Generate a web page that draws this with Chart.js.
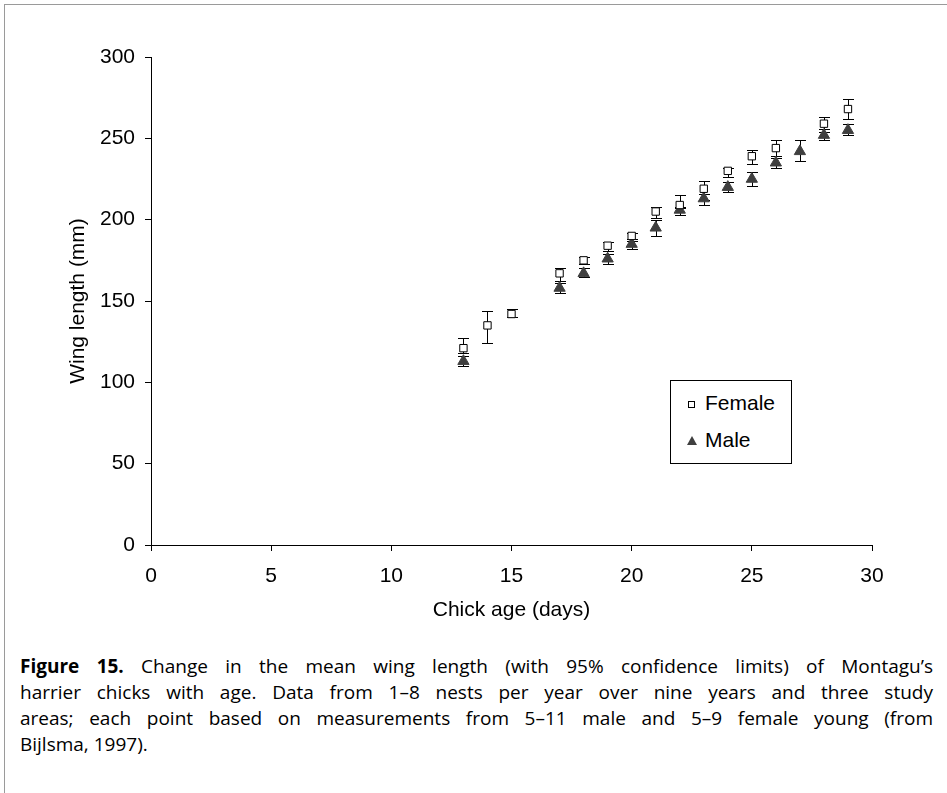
<!DOCTYPE html>
<html>
<head>
<meta charset="utf-8">
<script src="https://cdn.jsdelivr.net/npm/chart.js@4.4.0/dist/chart.umd.min.js"></script>
<style>
  body { margin: 0; background: #fff; }
  #frame { position: absolute; left: 4px; top: 4px; width: 943px; height: 789px;
           border-top: 1px solid #9a9a9a; border-left: 1px solid #9a9a9a; }
  #chart { position: absolute; left: 0; top: 0; }
  #legendBox { position: absolute; left: 670px; top: 380px; width: 120px; height: 82px;
               border: 1px solid #000; background: #fff;
               font-family: "Liberation Sans", Arial, sans-serif; font-size: 21px; line-height: 24px; color: #000; }
  .lg-sq { position: absolute; left: 17px; top: 20px; width: 5px; height: 5px; border: 1px solid #000; background: #fff; }
  .lg-tri { position: absolute; left: 16px; top: 55px; width: 0; height: 0;
            border-left: 5px solid transparent; border-right: 5px solid transparent; border-bottom: 9px solid #3f3f3f; }
  .lg-txt { position: absolute; left: 34px; }
  #caption { position: absolute; left: 20px; top: 653px; width: 913px;
             font-family: "Open Sans", "Noto Sans", sans-serif;
             font-size: 19px; line-height: 26px; color: #000; }
  #caption .ln { text-align: justify; text-align-last: justify; white-space: nowrap; }
  #caption .ln.last { text-align-last: left; }
</style>
</head>
<body>
<div id="frame"></div>
<canvas id="chart" width="947" height="640"></canvas>
<div id="legendBox">
  <span class="lg-sq"></span><span class="lg-txt" style="top:10px">Female</span>
  <span class="lg-tri"></span><span class="lg-txt" style="top:47px">Male</span>
</div>
<div id="caption">
  <div class="ln"><b>Figure 15.</b> Change in the mean wing length (with 95% confidence limits) of Montagu’s</div>
  <div class="ln">harrier chicks with age. Data from 1–8 nests per year over nine years and three study</div>
  <div class="ln">areas; each point based on measurements from 5–11 male and 5–9 female young (from</div>
  <div class="ln last">Bijlsma, 1997).</div>
</div>
<script>
// Female chicks: age (days), mean wing length and 95% limits (mm)
const femaleAge  = [13, 14, 15, 17, 18, 19, 20, 21, 22, 23, 24, 25, 26, 28, 29];
const femaleMean = [121, 135, 142, 167, 175, 184, 190, 205, 209, 219, 230, 239, 244, 259, 268];
const femaleLo   = [118, 124, 140, 162, 173, 181, 188, 201, 207, 212, 226, 234, 239, 256, 262];
const femaleHi   = [127, 144, 145, 170, 177, 186, 192, 208, 215, 224, 232, 243, 249, 263, 274];

// Male chicks
const maleAge  = [13, 17, 18, 19, 20, 21, 22, 23, 24, 25, 26, 27, 28, 29];
const maleMean = [113, 158, 167, 176, 185, 195, 206, 213, 220, 225, 235, 242, 252, 255];
const maleLo   = [110, 155, 165, 173, 182, 190, 203, 209, 217, 221, 232, 236, 249, 252];
const maleHi   = [116, 161, 170, 179, 187, 200, 208, 216, 223, 229, 238, 249, 254, 259];

const xTicks = [0, 5, 10, 15, 20, 25, 30];
const yTicks = [0, 50, 100, 150, 200, 250, 300];

const FONT = '"Liberation Sans", Arial, sans-serif';

const errorSets = [
    { age: femaleAge, lo: femaleLo, hi: femaleHi },
    { age: maleAge, lo: maleLo, hi: maleHi }
];

// Draws 95% limits under the markers
const errorBarPlugin = {
    id: 'errorBars',
    beforeDatasetsDraw(chart) {
        const { ctx, scales: { x, y } } = chart;
        ctx.save();
        ctx.strokeStyle = '#000';
        ctx.lineWidth = 1;
        errorSets.forEach(set => {
            set.age.forEach((a, i) => {
                const px = Math.round(x.getPixelForValue(a)) + 0.5;
                const top = Math.round(y.getPixelForValue(set.hi[i])) + 0.5;
                const bot = Math.round(y.getPixelForValue(set.lo[i])) + 0.5;
                ctx.beginPath();
                ctx.moveTo(px, top); ctx.lineTo(px, bot);
                ctx.moveTo(px - 5.5, top); ctx.lineTo(px + 5.5, top);
                ctx.moveTo(px - 5.5, bot); ctx.lineTo(px + 5.5, bot);
                ctx.stroke();
            });
        });
        ctx.restore();
    }
};

const ctx = document.getElementById('chart');
new Chart(ctx, {
    type: 'scatter',
    data: {
        datasets: [{
            label: 'Female',
            data: femaleAge.map((a, i) => ({ x: a, y: femaleMean[i] })),
            pointStyle: 'rect',
            pointRadius: 5.2,
            backgroundColor: '#fff',
            borderColor: '#000',
            borderWidth: 1
        }, {
            label: 'Male',
            data: maleAge.map((a, i) => ({ x: a, y: maleMean[i] })),
            pointStyle: 'triangle',
            pointRadius: 6.5,
            backgroundColor: '#3f3f3f',
            borderColor: '#3f3f3f',
            borderWidth: 1
        }]
    },
    options: {
        responsive: false,
        animation: false,
        layout: { padding: { top: 57, right: 75, left: 0, bottom: 0 } },
        plugins: {
            legend: { display: false },
            tooltip: { enabled: false }
        },
        scales: {
            x: {
                type: 'linear',
                min: 0,
                max: 30,
                afterBuildTicks: s => { s.ticks = xTicks.map(v => ({ value: v })); },
                afterFit: s => { s.height = 95; },
                grid: { drawOnChartArea: false, drawTicks: true, tickLength: 6, color: '#000' },
                border: { color: '#000', width: 1 },
                ticks: { color: '#000', padding: 13, maxRotation: 0, font: { family: FONT, size: 21 } },
                title: { display: true, text: 'Chick age (days)', color: '#000',
                         padding: { top: 0, bottom: 17 }, font: { family: FONT, size: 21 } }
            },
            y: {
                min: 0,
                max: 300,
                afterBuildTicks: s => { s.ticks = yTicks.map(v => ({ value: v })); },
                afterFit: s => { s.width = 151; },
                grid: { drawOnChartArea: false, drawTicks: true, tickLength: 6, color: '#000' },
                border: { color: '#000', width: 1 },
                ticks: { color: '#000', padding: 10, font: { family: FONT, size: 21 } },
                title: { display: true, text: 'Wing length (mm)', color: '#000',
                         padding: { top: 66, bottom: 0 }, font: { family: FONT, size: 21 } }
            }
        }
    },
    plugins: [errorBarPlugin]
});
</script>
</body>
</html>
